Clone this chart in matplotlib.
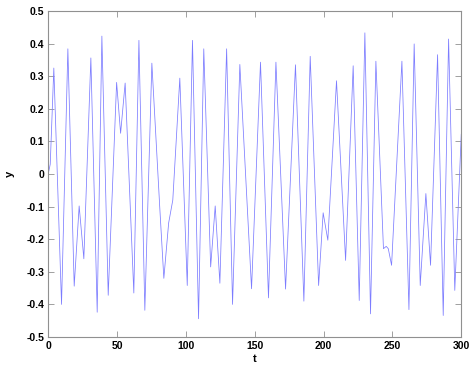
import matplotlib
matplotlib.use('Agg')
import matplotlib.pyplot as plt

# values (extrema and a few shoulders)
t = [0, 1.5, 4.1, 9.7, 14.3, 18.9, 22.5, 25.9, 31.0, 35.6, 39.0, 43.6,
     49.7, 52.6, 55.9, 62.2, 65.9, 70.2, 75.3, 81.0, 84.0, 87.5, 90.5,
     95.6, 101.0, 104.8, 109.2, 113.0, 118.0, 121.3, 124.7, 129.6, 133.9,
     139.2, 147.7, 154.2, 160.0, 165.4, 172.4, 179.6, 185.7, 190.3, 196.4,
     199.7, 203.1, 209.4, 216.0, 221.5, 225.9, 230.0, 234.1, 238.0, 243.5,
     245.5, 247.0, 249.4, 256.9, 262.0, 265.8, 270.2, 274.3, 277.7, 282.8,
     286.9, 290.8, 295.3, 300.0]
y = [0.0, 0.03, 0.325, -0.40, 0.384, -0.344, -0.098, -0.26, 0.356, -0.424,
     0.423, -0.372, 0.281, 0.125, 0.279, -0.365, 0.41, -0.418, 0.34, -0.10,
     -0.32, -0.15, -0.08, 0.294, -0.342, 0.41, -0.444, 0.384, -0.285, -0.098,
     -0.335, 0.384, -0.40, 0.336, -0.352, 0.343, -0.38, 0.343, -0.353, 0.335,
     -0.39, 0.361, -0.342, -0.119, -0.203, 0.286, -0.265, 0.332, -0.388,
     0.433, -0.429, 0.346, -0.229, -0.222, -0.229, -0.28, 0.346, -0.416,
     0.399, -0.342, -0.06, -0.28, 0.366, -0.434, 0.414, -0.357, 0.122]

plt.rcParams['font.family'] = ['Liberation Sans', 'DejaVu Sans']

fig = plt.figure(figsize=(4.77, 3.73), dpi=100)
ax = fig.add_axes([0.101, 0.0965, 0.866, 0.874])
ax.plot(t, y, color='#7c7cff', lw=0.55)

ax.set_xlim(0, 300)
ax.set_ylim(-0.5, 0.5)
ax.set_xticks([0, 50, 100, 150, 200, 250, 300])
ax.set_yticks([-0.5, -0.4, -0.3, -0.2, -0.1, 0, 0.1, 0.2, 0.3, 0.4, 0.5])
ax.set_yticklabels(['-0.5', '-0.4', '-0.3', '-0.2', '-0.1', '0',
                    '0.1', '0.2', '0.3', '0.4', '0.5'])
ax.tick_params(direction='in', top=True, right=True, length=4, width=0.6,
               color='#909090', labelsize=7.5, pad=3)
for lab in ax.get_xticklabels() + ax.get_yticklabels():
    lab.set_fontweight('bold')
for s in ax.spines.values():
    s.set_color('#909090')
    s.set_linewidth(0.8)

ax.set_xlabel('t', fontsize=8, fontweight='bold', labelpad=2)
ax.set_ylabel('y', fontsize=8, fontweight='bold', labelpad=8)

fig.savefig('out.png', dpi=100)
